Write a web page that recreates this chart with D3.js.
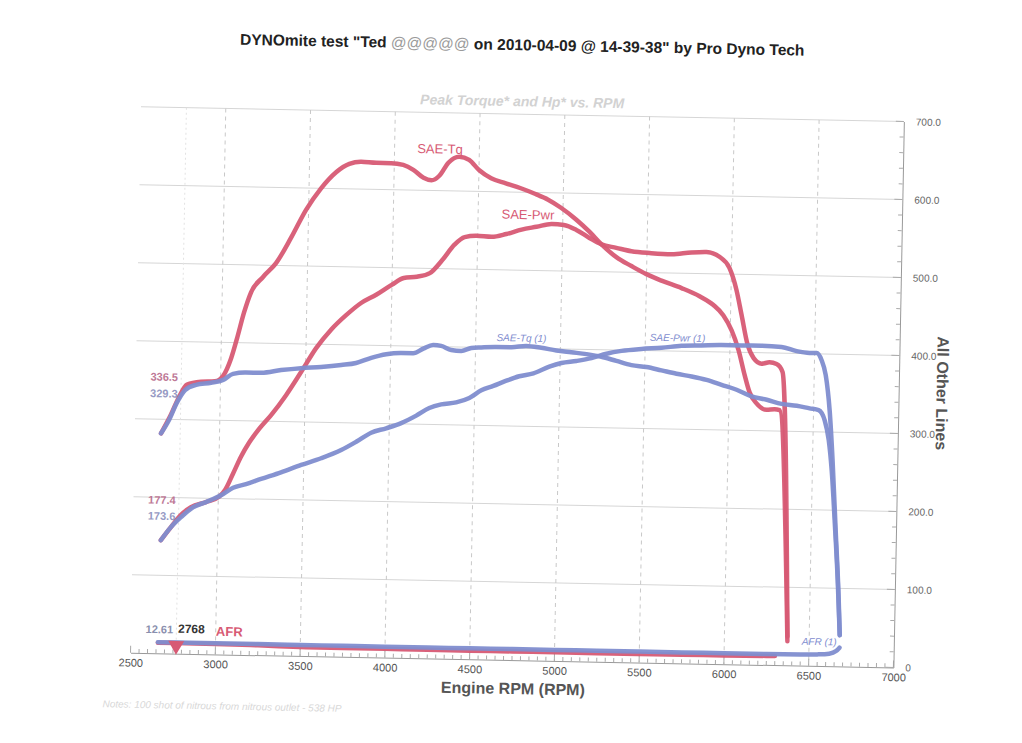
<!DOCTYPE html>
<html>
<head>
<meta charset="utf-8">
<script src="https://cdn.jsdelivr.net/npm/d3@7/dist/d3.min.js"></script>
<style>
  html, body { margin: 0; padding: 0; background: #fff; }
  svg { display: block; font-family: "Liberation Sans", Arial, sans-serif; }
</style>
</head>
<body>
<svg id="chart" width="1022" height="743"></svg>
<script>
// ---------------- data ----------------
const xTicks = [2500, 3000, 3500, 4000, 4500, 5000, 5500, 6000, 6500, 7000];
const yTicks = [0, 100, 200, 300, 400, 500, 600, 700];

const tqRpm = [2655,2711,2757,2803,2885,2967,3014,3060,3093,3131,3170,3239,3314,3400,3485,3571,3658,3735,3805,3894,3982,4053,4113,4174,4221,4267,4319,4383,4441,4502,4573,4660,4749,4836,4911,4988,5080,5158,5231,5320,5410,5499,5589,5708,5815,5898,5958,6008,6051,6090,6121,6163,6223,6270,6300,6372];
const tqVal = [282,306,329,345,349,350,357,380,406,439,465,485,503,536,572,600,621,632,635,634,634,632,626,616,613,619,636,644,640,627,617,611,605,598,591,581,566,551,535,519,508,498,490,481,471,460,447,428,403,371,349,335,327,328,327,31];

const pwrRpm = [2666,2724,2782,2840,2928,3004,3039,3084,3129,3175,3233,3302,3388,3474,3560,3646,3733,3820,3908,3998,4069,4146,4222,4294,4364,4423,4493,4581,4669,4758,4846,4935,5006,5081,5159,5231,5319,5408,5526,5644,5762,5851,5928,5988,6032,6065,6104,6141,6189,6235,6277,6313,6372];
const pwrVal = [145,162,178,188,195,202,211,232,254,272,290,308,334,364,395,419,438,454,465,478,487,489,494,511,531,541,543,542,546,552,556,560,559,553,543,535,531,527,525,524,527,528,522,508,480,448,410,393,386,388,386,376,37];

const tq1Rpm = [2655,2700,2746,2792,2856,2944,3015,3073,3149,3238,3356,3473,3591,3710,3797,3886,3974,4063,4133,4192,4250,4297,4357,4416,4475,4534,4622,4711,4799,4888,4977,5065,5155,5243,5332,5421,5510,5599,5688,5777,5866,5955,6044,6133,6223,6311,6400,6477,6530,6567,6593,6614,6637,6662,6680];
const tq1Val = [282,299,322,338,345,348,352,360,362,362,366,369,371,374,377,384,389,391,391,397,402,401,396,395,399,400,401,401,403,401,398,396,394,391,386,381,379,375,371,368,364,358,352,344,340,335,333,330,328,315,290,251,187,110,40];

const pwr1Rpm = [2666,2724,2782,2852,2928,3016,3086,3162,3250,3367,3485,3602,3719,3807,3894,3982,4070,4158,4234,4304,4392,4469,4539,4609,4685,4761,4844,4937,5008,5096,5185,5273,5361,5479,5597,5714,5832,5950,6068,6186,6304,6394,6470,6512,6542,6568,6595,6618,6644,6670,6680];
const pwr1Val = [145,162,175,188,195,204,214,219,226,235,245,254,265,276,288,294,301,311,321,326,329,335,345,351,358,364,368,377,382,385,389,395,399,402,404,407,408,409,409,409,408,403,401,401,392,373,328,264,175,85,40];

const afrRpm = [2660,2768,3000,3250,3500,3750,4000,4250,4500,4750,5000,5250,5500,5750,6000,6250,6300];
const afrVal = [13.6,13.6,13.4,12.6,11.6,11.2,11.3,11.0,10.9,11.1,11.0,10.9,11.0,11.1,11.2,11.6,11.8];

const afr1Rpm = [2660,2768,3000,3250,3500,3750,4000,4250,4500,4750,5000,5250,5500,5750,6000,6250,6450,6550,6620,6660,6680];
const afr1Val = [14.2,14.1,14.2,14.3,14.1,14.2,14.0,14.1,14.0,14.1,14.0,14.1,14.0,13.9,14.0,14.1,14.3,14.8,16.0,19.5,24.0];

const cursorRpm = 2768;
const cursorLabels = [
  { text: "336.5", value: 336.5, color: "#b86b8c", dy: -13 },
  { text: "329.3", value: 329.3, color: "#8b8fbd", dy: -2 },
  { text: "177.4", value: 177.4, color: "#b86b8c", dy: -14 },
  { text: "173.6", value: 173.6, color: "#8b8fbd", dy: -1 }
];

// ---------------- drawing ----------------
const RED = "#d75a74";
const BLUE = "#7f8dcf";

const svg = d3.select("#chart");
const g = svg.append("g").attr("transform", "rotate(1.1,511,371)");

const x = d3.scaleLinear().domain([2500, 7000]).range([136, 899]);
const y = d3.scaleLinear().domain([0, 700]).range([660, 114]);

// horizontal grid
g.append("g").selectAll("line").data(yTicks.filter(d => d > 0)).join("line")
  .attr("x1", x(2500)).attr("x2", x(7000))
  .attr("y1", d => y(d)).attr("y2", d => y(d))
  .attr("stroke", "#d6d6d6").attr("stroke-width", 1);

// vertical dashed grid
g.append("g").selectAll("line").data(xTicks.filter(d => d > 2500 && d < 7000)).join("line")
  .attr("x1", d => x(d)).attr("x2", d => x(d))
  .attr("y1", y(700)).attr("y2", y(0))
  .attr("stroke", "#c8c8c8").attr("stroke-width", 1).attr("stroke-dasharray", "4,4");

// cursor line
g.append("line")
  .attr("x1", x(cursorRpm)).attr("x2", x(cursorRpm))
  .attr("y1", y(700)).attr("y2", y(0))
  .attr("stroke", "#e2e2e2").attr("stroke-width", 1).attr("stroke-dasharray", "2,3");

// x axis (bottom)
const xAxis = d3.axisBottom(x).tickValues(xTicks).tickSize(0).tickPadding(6).tickFormat(d3.format("d"));
const gx = g.append("g").attr("transform", `translate(0,${y(0)})`).call(xAxis);
gx.select(".domain").attr("stroke", "#999");
gx.selectAll("text").attr("fill", "#555").attr("font-size", 11);
const xMinor = d3.range(2500, 7001, 50);
gx.append("g").selectAll("line").data(xMinor).join("line")
  .attr("x1", d => x(d)).attr("x2", d => x(d))
  .attr("y1", 0).attr("y2", d => (d % 500 === 0 ? -7 : -4))
  .attr("stroke", "#aaa").attr("stroke-width", 1);

// y axis (right)
const yAxis = d3.axisRight(y).tickValues(yTicks).tickSize(0).tickPadding(12)
  .tickFormat(d => d === 0 ? "0" : d3.format(".1f")(d));
const gy = g.append("g").attr("transform", `translate(${x(7000)},0)`).call(yAxis);
gy.select(".domain").attr("stroke", "#999");
gy.selectAll("text").attr("fill", "#666").attr("font-size", 10);
const yMinor = d3.range(0, 701, 20);
gy.append("g").selectAll("line").data(yMinor).join("line")
  .attr("x1", 0).attr("x2", d => (d % 100 === 0 ? -8 : -4))
  .attr("y1", d => y(d)).attr("y2", d => y(d))
  .attr("stroke", "#aaa").attr("stroke-width", 1);

// lines
const line = d3.line().x(d => x(d[0])).y(d => y(d[1])).curve(d3.curveMonotoneX);
const zip = (a, b) => a.map((v, i) => [v, b[i]]);

const series = [
  { rpm: afrRpm, val: afrVal, color: RED, w: 4.5 },
  { rpm: tqRpm, val: tqVal, color: RED, w: 4.5 },
  { rpm: pwrRpm, val: pwrVal, color: RED, w: 4.5 },
  { rpm: afr1Rpm, val: afr1Val, color: BLUE, w: 4.5 },
  { rpm: tq1Rpm, val: tq1Val, color: BLUE, w: 4.5 },
  { rpm: pwr1Rpm, val: pwr1Val, color: BLUE, w: 4.5 }
];
g.append("g").selectAll("path").data(series).join("path")
  .attr("d", s => line(zip(s.rpm, s.val)))
  .attr("fill", "none")
  .attr("stroke", s => s.color)
  .attr("stroke-width", s => s.w)
  .attr("stroke-linejoin", "round")
  .attr("stroke-linecap", "round")
  .attr("opacity", 0.95);

// cursor marker triangle
g.append("path")
  .attr("d", d3.symbol(d3.symbolTriangle, 110)())
  .attr("transform", `translate(${x(cursorRpm)},${y(0) - 8}) rotate(180)`)
  .attr("fill", RED);

// cursor value labels
g.append("g").selectAll("text").data(cursorLabels).join("text")
  .attr("x", x(cursorRpm) - 17)
  .attr("y", d => y(d.value) + d.dy)
  .attr("text-anchor", "middle")
  .attr("dominant-baseline", "middle")
  .attr("font-size", 11).attr("font-weight", "bold")
  .attr("fill", d => d.color)
  .attr("opacity", 0.9)
  .text(d => d.text);

g.append("text").attr("x", x(cursorRpm) - 17).attr("y", y(afr1Val[1]) - 12)
  .attr("text-anchor", "middle").attr("dominant-baseline", "middle")
  .attr("font-size", 11).attr("font-weight", "bold").attr("fill", "#8a8fae")
  .text("12.61");
g.append("text").attr("x", x(cursorRpm) + 15).attr("y", y(afr1Val[1]) - 13)
  .attr("text-anchor", "middle").attr("dominant-baseline", "middle")
  .attr("font-size", 12).attr("font-weight", "bold").attr("fill", "#333")
  .text("2768");
g.append("text").attr("x", x(3080)).attr("y", y(afr1Val[1]) - 11)
  .attr("text-anchor", "middle").attr("dominant-baseline", "middle")
  .attr("font-size", 13).attr("font-weight", "bold").attr("fill", RED)
  .text("AFR");

// series labels
const seriesLabels = [
  { text: "SAE-Tq", rpm: 4268, val: 652, color: RED, size: 13, italic: false },
  { text: "SAE-Pwr", rpm: 4794, val: 570, color: RED, size: 13, italic: false },
  { text: "SAE-Tq (1)", rpm: 4770, val: 412, color: BLUE, size: 10, italic: true },
  { text: "SAE-Pwr (1)", rpm: 5690, val: 416, color: BLUE, size: 10, italic: true },
  { text: "AFR (1)", rpm: 6560, val: 30, color: BLUE, size: 10, italic: true }
];
g.append("g").selectAll("text").data(seriesLabels).join("text")
  .attr("x", d => x(d.rpm)).attr("y", d => y(d.val))
  .attr("text-anchor", "middle").attr("dominant-baseline", "middle")
  .attr("font-size", d => d.size)
  .attr("font-style", d => d.italic ? "italic" : "normal")
  .attr("fill", d => d.color)
  .text(d => d.text);

// titles
const title = g.append("text").attr("x", 516).attr("y", 50)
  .attr("text-anchor", "middle").attr("font-size", 15.5).attr("font-weight", "bold").attr("fill", "#222");
title.append("tspan").text("DYNOmite test \"Ted ");
title.append("tspan").attr("fill", "#9a9a9a").attr("font-weight", "normal").text("@@@@@");
title.append("tspan").text(" on 2010-04-09 @ 14-39-38\" by Pro Dyno Tech");

g.append("text").attr("x", 517).attr("y", 106)
  .attr("text-anchor", "middle").attr("font-size", 14).attr("font-weight", "bold")
  .attr("font-style", "italic").attr("fill", "#d2d2d2")
  .text("Peak Torque* and Hp* vs. RPM");

g.append("text").attr("x", 519).attr("y", 694)
  .attr("text-anchor", "middle").attr("font-size", 16).attr("font-weight", "bold").attr("fill", "#555")
  .text("Engine RPM (RPM)");

g.append("text").attr("transform", "translate(937,385) rotate(90)")
  .attr("text-anchor", "middle").attr("font-size", 16).attr("font-weight", "bold").attr("fill", "#555")
  .text("All Other Lines");

g.append("text").attr("x", 109).attr("y", 715)
  .attr("font-size", 10).attr("font-style", "italic").attr("fill", "#d8d8d8")
  .text("Notes: 100 shot of nitrous from nitrous outlet - 538 HP");
</script>
</body>
</html>
